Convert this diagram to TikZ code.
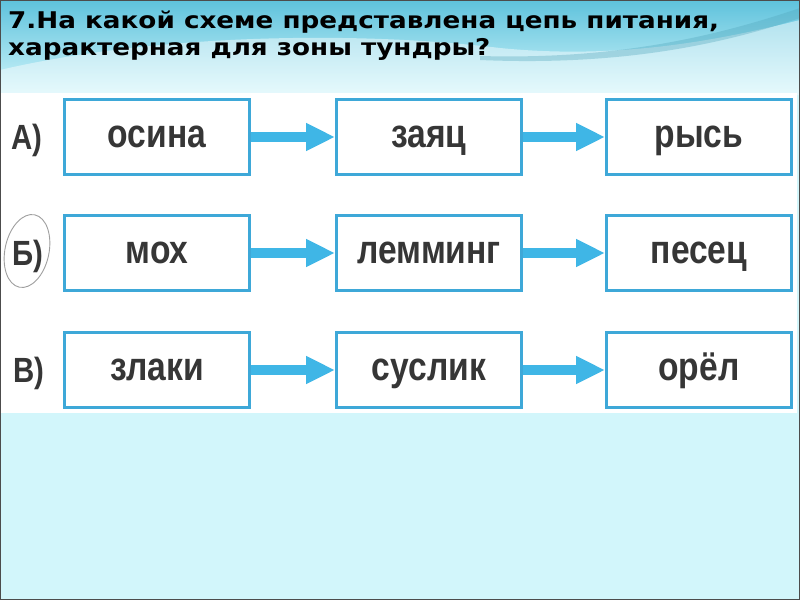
\documentclass[tikz,border=0pt]{standalone}
\usepackage{fontspec}
\setmainfont{DejaVu Sans}
\newfontfamily\ttlf[FakeStretch=1.14]{DejaVu Sans}
\newfontfamily\bxf[FakeStretch=0.84]{Liberation Sans}
\usetikzlibrary{arrows.meta,shapes.geometric}
\definecolor{bordc}{HTML}{3EA8D8}
\definecolor{arrc}{HTML}{3FB6E6}
\definecolor{txtc}{HTML}{363636}
\definecolor{bgc}{HTML}{D2F6FB}
\definecolor{topc}{HTML}{5EC2DC}
\tikzset{
  box/.style={draw=bordc, line width=3pt, fill=white, minimum width=185pt, minimum height=75pt, inner sep=0pt,
    text height=21pt, text depth=0pt,
    font=\bxf\bfseries\fontsize{40}{40}\selectfont, text=txtc},
  lbl/.style={font=\bxf\bfseries\fontsize{35}{35}\selectfont, text=txtc, inner sep=0pt, text height=25pt, text depth=0pt},
  arr/.style={draw=arrc, line width=10pt, -{Triangle[length=29pt,width=26pt]}},
  ttl/.style={font=\ttlf\bfseries\fontsize{23}{26}\selectfont, text=black, inner sep=0pt, anchor=base west}
}
\begin{document}
\begin{tikzpicture}[x=1pt,y=-1pt]
\useasboundingbox (0,0) rectangle (800,600);
% background
\fill[bgc] (0,0) rectangle (800,600);
\shade[top color=topc, bottom color=bgc] (0,0) rectangle (800,95);
\fill[white, opacity=0.45] (0,95) -- (0,70) .. controls (150,35) and (350,30) .. (500,48) .. controls (620,60) and (720,40) .. (800,20) -- (800,95) -- cycle;
\fill[topc!85!black, opacity=0.35] (480,56) .. controls (620,60) and (720,35) .. (800,8) -- (800,18) .. controls (720,45) and (620,66) .. (480,60) -- cycle;
% white panel
\fill[white] (0,93) rectangle (797,413);
% title
\node[ttl] (t1) at (8,28) {7.На какой схеме представлена цепь питания,};
\node[ttl] (t2) at (8,55) {характерная для зоны тундры?};
% row A
\node[lbl] (la) at (27,137) {А)};
\node[box] (a1) at (157,137) {осина};
\node[box] (a2) at (429,137) {заяц};
\node[box] (a3) at (699,137) {рысь};
% row B
\node[lbl] (lb) at (28,253) {Б)};
\node[box] (b1) at (157,253) {мох};
\node[box] (b2) at (429,253) {лемминг};
\node[box] (b3) at (699,253) {песец};
% row V
\node[lbl] (lv) at (29,370) {В)};
\node[box] (v1) at (157,370) {злаки};
\node[box] (v2) at (429,370) {суслик};
\node[box] (v3) at (699,370) {орёл};
% arrows
\draw[arr] (a1.east) -- (a2.west);
\draw[arr] (a2.east) -- (a3.west);
\draw[arr] (b1.east) -- (b2.west);
\draw[arr] (b2.east) -- (b3.west);
\draw[arr] (v1.east) -- (v2.west);
\draw[arr] (v2.east) -- (v3.west);
% pencil ellipse round B)
\draw[gray!75, line width=0.9pt, rotate around={-12:(27,251)}] (27,251) ellipse [x radius=22, y radius=37];
% frame
\draw[gray!60!black, line width=1.2pt] (0.6,0.6) rectangle (799.4,599.4);
\end{tikzpicture}
\end{document}
